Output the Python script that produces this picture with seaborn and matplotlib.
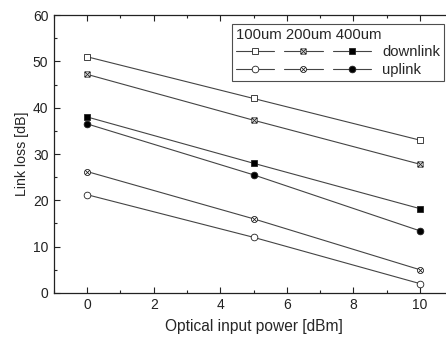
import numpy as np
import pandas as pd
import matplotlib
matplotlib.use("Agg")
import matplotlib.pyplot as plt
import seaborn as sns
from matplotlib.path import Path
from matplotlib.legend_handler import HandlerTuple
from matplotlib.lines import Line2D
from matplotlib.ticker import MultipleLocator

# data
power = [0, 5, 10]
down_100 = [51.0, 42.0, 33.0]
down_200 = [47.2, 37.3, 27.8]
down_400 = [38.0, 28.0, 18.2]
up_100 = [21.2, 12.0, 2.0]
up_200 = [26.2, 16.0, 5.0]
up_400 = [36.5, 25.5, 13.4]
fibers = ["100um", "200um", "400um"]
links = ["downlink", "uplink"]

sns.set_style("ticks")
plt.rcParams["font.family"] = ["Liberation Sans", "DejaVu Sans"]


def crossed(base):
    # box or circle with an X drawn inside
    if base == "s":
        outline = Path([(-1, -1), (1, -1), (1, 1), (-1, 1), (-1, -1)],
                       [Path.MOVETO, Path.LINETO, Path.LINETO, Path.LINETO, Path.CLOSEPOLY])
        d = 1.0
    else:
        outline = Path.unit_circle()
        d = 0.707
    cross = Path([(-d, -d), (d, d), (-d, d), (d, -d)],
                 [Path.MOVETO, Path.LINETO, Path.MOVETO, Path.LINETO])
    return Path.make_compound_path(outline, cross)


sq_x = crossed("s")
ci_x = crossed("o")

series = [
    (down_100, "s", "white", 4.2),
    (down_200, sq_x, "white", 3.8),
    (down_400, "s", "black", 4.0),
    (up_100, "o", "white", 4.8),
    (up_200, ci_x, "white", 4.4),
    (up_400, "o", "black", 4.8),
]
line_col = "#444444"

fig = plt.figure(figsize=(4.46, 3.37), dpi=100)
ax = fig.add_axes([0.121, 0.131, 0.895, 0.824])

for vals, mk, fc, ms in series:
    df = pd.DataFrame({"power": power, "loss": vals})
    sns.lineplot(data=df, x="power", y="loss", ax=ax, color=line_col, lw=0.8,
                 marker=mk, markersize=ms, markerfacecolor=fc,
                 markeredgecolor="#222222", markeredgewidth=0.6)

ax.set_xlim(-1, 11)
ax.set_ylim(0, 60)
ax.xaxis.set_major_locator(MultipleLocator(2))
ax.xaxis.set_minor_locator(MultipleLocator(1))
ax.yaxis.set_major_locator(MultipleLocator(10))
ax.yaxis.set_minor_locator(MultipleLocator(5))
ax.tick_params(which="both", direction="in", top=True, right=False, labelsize=10,
               width=0.8, colors="#222222")
ax.tick_params(which="major", length=4, pad=4)
ax.tick_params(which="minor", length=2)
for s in ax.spines.values():
    s.set_linewidth(0.9)
    s.set_color("#222222")
ax.set_xlabel("Optical input power [dBm]", fontsize=11.2, labelpad=5)
ax.set_ylabel("Link loss [dB]", fontsize=10.2, labelpad=3)

# legend laid out as a small table: one row per link, one column per fiber
def handle(mk, fc, ms):
    return Line2D([], [], color=line_col, lw=0.8, marker=mk, markersize=ms,
                  markerfacecolor=fc, markeredgecolor="#222222", markeredgewidth=0.6)

h_down = tuple(handle(mk, fc, ms) for _, mk, fc, ms in series[:3])
h_up = tuple(handle(mk, fc, ms) for _, mk, fc, ms in series[3:])
leg = ax.legend([h_down, h_up], links, title=" ".join(fibers),
                handler_map={tuple: HandlerTuple(ndivide=None, pad=0.67)},
                handlelength=9.1, fontsize=10.7, title_fontsize=10.7,
                loc="upper right", bbox_to_anchor=(0.977, 0.968),
                frameon=True, fancybox=False, edgecolor="#222222",
                borderpad=0.25, labelspacing=0.25, handletextpad=0.75,
                borderaxespad=0)
leg.get_frame().set_linewidth(0.8)
leg._legend_box.align = "left"

fig.savefig("out.png", dpi=100)
